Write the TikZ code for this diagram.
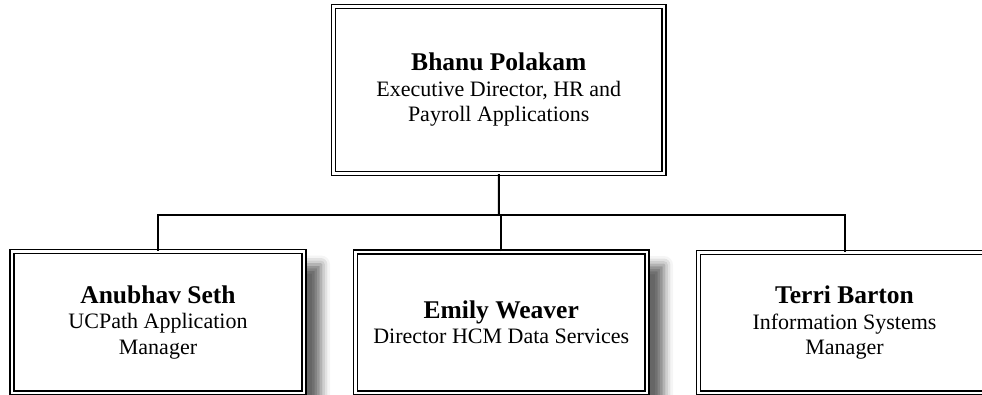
\documentclass[tikz,border=0pt]{standalone}
\usepackage{fontspec}
\setmainfont{Liberation Serif}
\usetikzlibrary{shadows.blur}
\newcommand{\pname}[1]{{\bfseries\fontsize{25.5}{25.5}\selectfont #1}}
\begin{document}
\begin{tikzpicture}[x=1pt,y=-1pt,
  orgbox/.style={draw, fill=white, double, double distance=2.6pt, line width=1.4pt,
    rectangle, inner sep=0pt, align=center,
    font=\fontsize{22}{25.5}\selectfont},
  shadowed/.style={blur shadow={shadow xshift=17pt, shadow yshift=-13pt,
    shadow blur radius=9pt, shadow opacity=60}},
  conn/.style={line width=2pt}]
\useasboundingbox (0,0) rectangle (982,394);
\clip (0,0) rectangle (982,394);
\node[orgbox, minimum width=330.5pt, minimum height=167pt] (top) at (498.75,90)
  {\pname{Bhanu Polakam}\\Executive Director, HR and\\Payroll Applications};
\node[orgbox, shadowed, minimum width=292pt, minimum height=141.5pt] (anu) at (158,322.25)
  {\pname{Anubhav Seth}\\UCPath Application\\Manager};
\node[orgbox, shadowed, minimum width=291.5pt, minimum height=141pt] (emi) at (501.25,322.5)
  {\pname{Emily Weaver}\\Director HCM Data Services};
\node[orgbox, minimum width=292pt, minimum height=140.5pt] (ter) at (844.5,322.75)
  {\pname{Terri Barton}\\Information Systems\\Manager};
\coordinate (hub) at (499,215);
\draw[conn] (top.south) -- (hub);
\draw[conn] (anu.north) -- (anu.north |- hub) -- (ter.north |- hub) -- (ter.north);
\draw[conn] (emi.north) -- (emi.north |- hub);
\end{tikzpicture}
\end{document}
